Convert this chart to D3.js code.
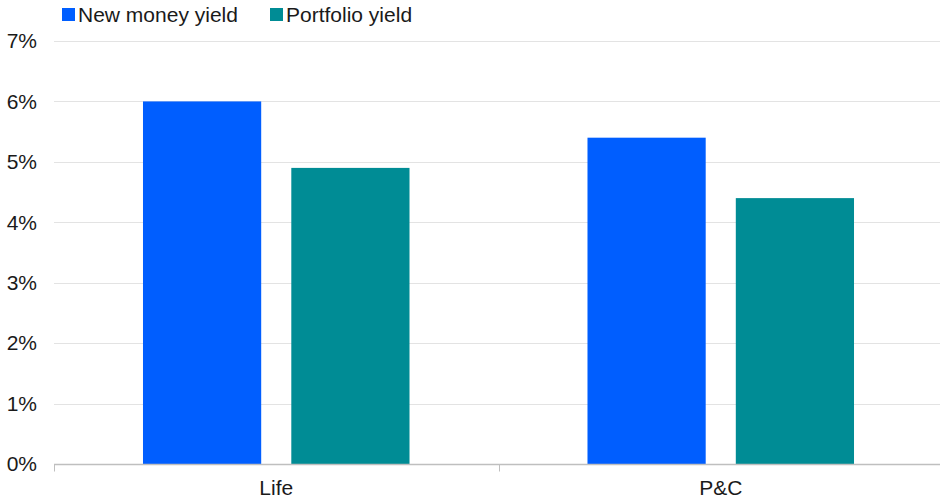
<!DOCTYPE html>
<html>
<head>
<meta charset="utf-8">
<script src="https://cdn.jsdelivr.net/npm/d3@7"></script>
<style>
  html, body { margin: 0; padding: 0; background: #fff; }
  svg { display: block; font-family: "Liberation Sans", Arial, sans-serif; }
</style>
</head>
<body>
<svg id="chart" width="940" height="500"></svg>
<script>
// Insurer yields by segment
const categories = ["Life", "P&C"];
const seriesNames = ["New money yield", "Portfolio yield"];
const newMoneyYield = [6.0, 5.4];
const portfolioYield = [4.9, 4.4];
const yTicks = [0, 1, 2, 3, 4, 5, 6, 7];
const colors = ["#005EFF", "#008C95"];

const svg = d3.select("#chart");
const margin = { top: 41, right: -3, bottom: 36, left: 54 };
const W = 940, H = 500;

const x0 = d3.scaleBand().domain(categories)
  .range([margin.left, W - margin.right]).paddingInner(0).paddingOuter(0);
const x1 = d3.scaleBand().domain(seriesNames)
  .range([0, x0.bandwidth()]).paddingInner(0.203).paddingOuter(0.6);
const y = d3.scaleLinear().domain([0, 7]).range([H - margin.bottom, margin.top]);

// gridlines
svg.append("g").selectAll("line").data(yTicks.filter(d => d > 0)).join("line")
  .attr("x1", margin.left).attr("x2", W)
  .attr("y1", d => Math.round(y(d)) + 0.5).attr("y2", d => Math.round(y(d)) + 0.5)
  .attr("stroke", "#e3e3e3").attr("stroke-width", 1);

// y tick labels
svg.append("g").selectAll("text").data(yTicks).join("text")
  .attr("x", 37).attr("y", d => y(d)).attr("dy", "0.35em")
  .attr("text-anchor", "end").attr("font-size", 21).attr("fill", "#1a1a1a")
  .text(d => d + "%");

// bars
const rows = categories.map((c, i) => ({ cat: c, vals: [newMoneyYield[i], portfolioYield[i]] }));
const groups = svg.append("g").selectAll("g").data(rows).join("g")
  .attr("transform", d => `translate(${x0(d.cat)},0)`);
groups.selectAll("rect").data(d => d.vals.map((v, j) => ({ name: seriesNames[j], v, j }))).join("rect")
  .attr("x", d => x1(d.name)).attr("width", x1.bandwidth())
  .attr("y", d => y(d.v)).attr("height", d => y(0) - y(d.v))
  .attr("fill", d => colors[d.j]);

// x axis line and category dividers
const axisY = Math.round(y(0)) + 0.5;
svg.append("line").attr("x1", margin.left).attr("x2", W)
  .attr("y1", axisY).attr("y2", axisY).attr("stroke", "#bfbfbf").attr("stroke-width", 1.5);
const dividers = [margin.left, x0(categories[1])];
svg.append("g").selectAll("line").data(dividers).join("line")
  .attr("x1", d => Math.round(d) + 0.5).attr("x2", d => Math.round(d) + 0.5)
  .attr("y1", axisY).attr("y2", axisY + 7)
  .attr("stroke", "#bfbfbf").attr("stroke-width", 1);

// category labels
svg.append("g").selectAll("text").data(categories).join("text")
  .attr("x", d => x0(d) + x0.bandwidth() / 2).attr("y", 488).attr("dy", "0.35em")
  .attr("text-anchor", "middle").attr("font-size", 21).attr("fill", "#1a1a1a")
  .text(d => d);

// legend
const legendX = [62, 270];
const leg = svg.append("g").selectAll("g").data(seriesNames).join("g")
  .attr("transform", (d, i) => `translate(${legendX[i]},0)`);
leg.append("rect").attr("x", 0).attr("y", 8).attr("width", 13).attr("height", 13)
  .attr("fill", (d, i) => colors[i]);
leg.append("text").attr("x", 16).attr("y", 15).attr("dy", "0.35em")
  .attr("font-size", 21).attr("fill", "#1a1a1a").text(d => d);
</script>
</body>
</html>
